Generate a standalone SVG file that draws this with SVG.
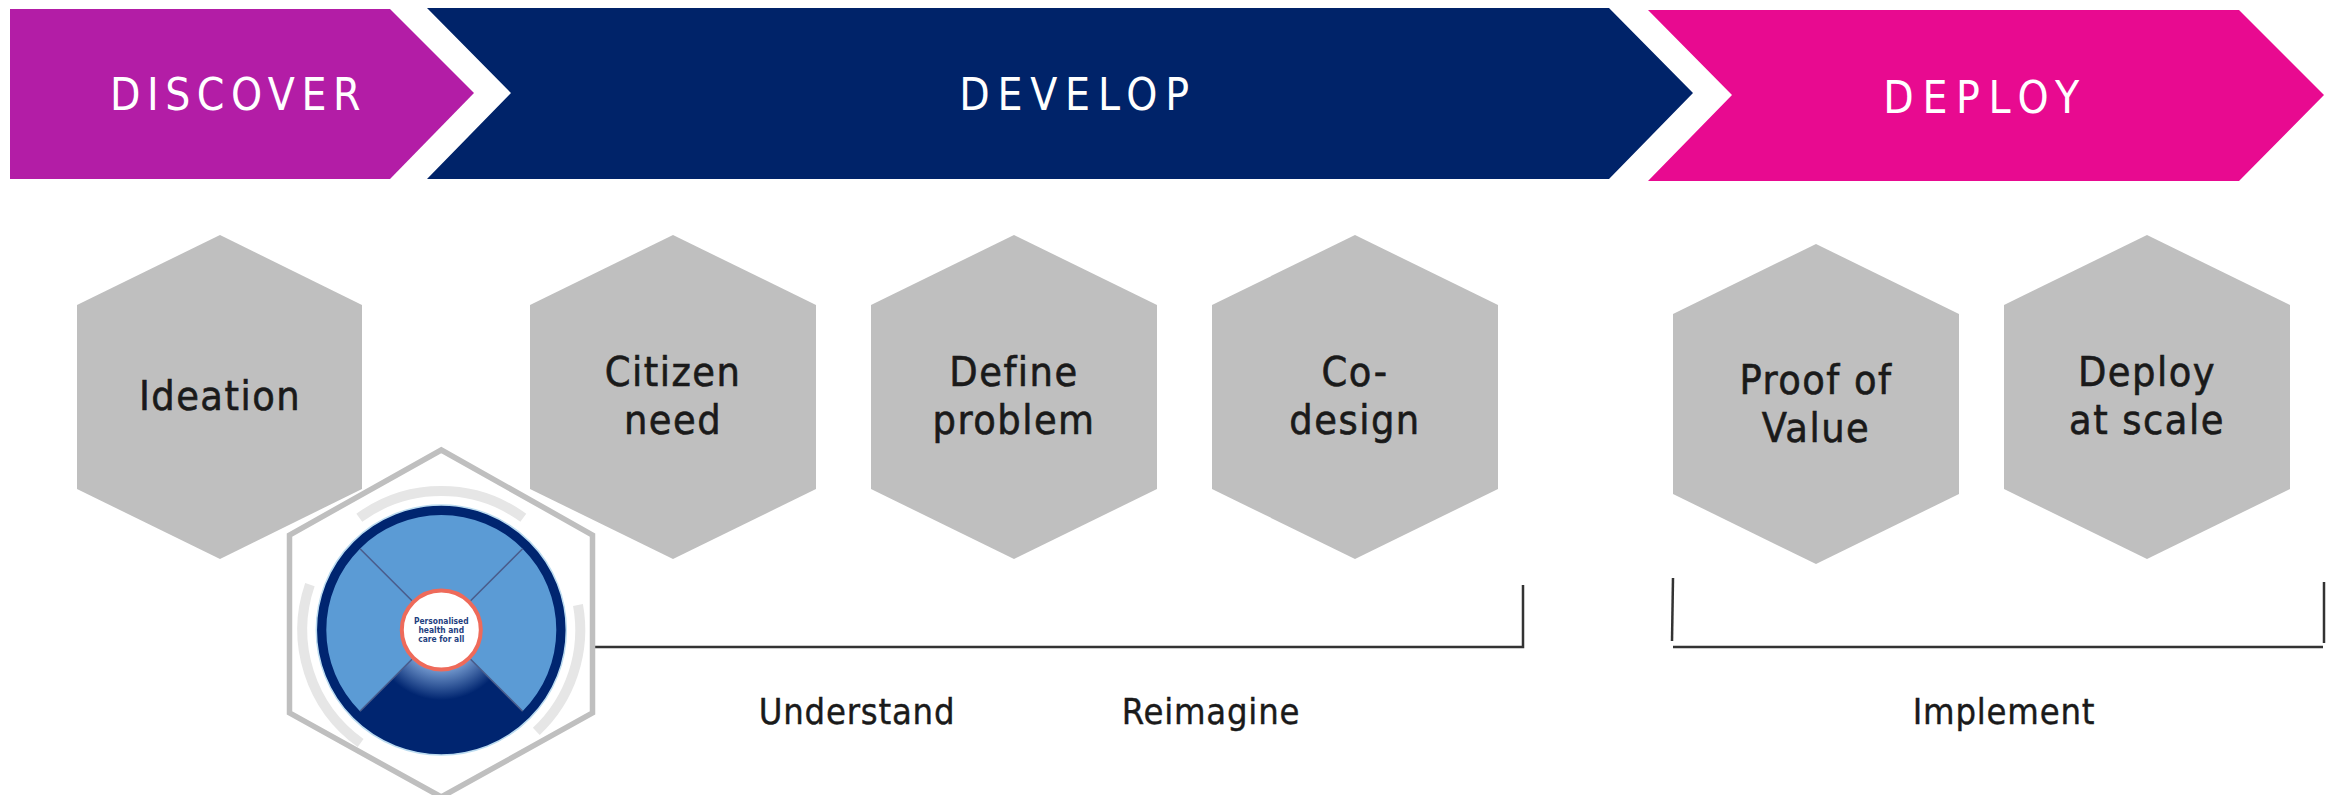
<svg xmlns="http://www.w3.org/2000/svg" width="2336" height="795" viewBox="0 0 2336 795">
<style>
.hex{fill:#bfbfbf}
.lbl{font-family:"DejaVu Sans Condensed","DejaVu Sans",sans-serif;font-stretch:condensed;font-size:41px;letter-spacing:1.5px;fill:#1a1a1a;text-anchor:middle;stroke:#1a1a1a;stroke-width:.6}
.sub{font-family:"DejaVu Sans Condensed","DejaVu Sans",sans-serif;font-stretch:condensed;font-size:36px;letter-spacing:.8px;fill:#1a1a1a;text-anchor:middle;stroke:#1a1a1a;stroke-width:.4}
.hd{font-family:"DejaVu Sans Condensed","DejaVu Sans",sans-serif;font-stretch:condensed;font-size:44px;fill:#fff;text-anchor:middle}
.con{fill:none;stroke:#333;stroke-width:2.5}
.arc{fill:none;stroke:#e6e6e6;stroke-width:10}
.spoke{stroke:#4a5d8c;stroke-width:1.6}
.ctr{font-family:"DejaVu Sans Condensed","DejaVu Sans",sans-serif;font-stretch:condensed;font-size:8.4px;font-weight:700;fill:#1f3f7f;text-anchor:middle}
</style>
<defs>
<radialGradient id="glow" gradientUnits="userSpaceOnUse" cx="441.3" cy="630" r="70">
<stop offset="0.58" stop-color="#6f95cb"/>
<stop offset="1" stop-color="#002570"/>
</radialGradient>
</defs>
<g id="discover"><polygon points="10,9 390,9 474,93 390,179 10,179" fill="#b31da6"/><text class="hd" x="238.5" y="110" letter-spacing="6.5">DISCOVER</text></g>
<g id="develop"><polygon points="427,8 1609,8 1693,93 1609,179 427,179 511,93" fill="#002369"/><text class="hd" x="1078" y="110" letter-spacing="7.8">DEVELOP</text></g>
<g id="deploy"><polygon points="1648,10 2239,10 2324,95 2239,181 1648,181 1732,95" fill="#e80a90"/><text class="hd" x="1985.5" y="113" letter-spacing="8.6">DEPLOY</text></g>
<g id="ideation"><polygon class="hex" points="220,235 362,305 362,489 220,559 77,489 77,305"/><text class="lbl" x="220" y="410">Ideation</text></g>
<g id="citizen-need"><polygon class="hex" points="673,235 816,305 816,489 673,559 530,489 530,305"/><text class="lbl" x="673" y="386">Citizen</text><text class="lbl" x="673" y="434">need</text></g>
<g id="define-problem"><polygon class="hex" points="1014,235 1157,305 1157,489 1014,559 871,489 871,305"/><text class="lbl" x="1014" y="386">Define</text><text class="lbl" x="1014" y="434">problem</text></g>
<g id="co-design"><polygon class="hex" points="1355,235 1498,305 1498,489 1355,559 1212,489 1212,305"/><text class="lbl" x="1355" y="386">Co-</text><text class="lbl" x="1355" y="434">design</text></g>
<g id="proof-of-value"><polygon class="hex" points="1816,244 1959,314 1959,494 1816,564 1673,494 1673,314"/><text class="lbl" x="1816" y="394">Proof of</text><text class="lbl" x="1816" y="442">Value</text></g>
<g id="deploy-at-scale"><polygon class="hex" points="2147,235 2290,305 2290,489 2147,559 2004,489 2004,305"/><text class="lbl" x="2147" y="386">Deploy</text><text class="lbl" x="2147" y="434">at scale</text></g>
<g id="connectors">
<path class="con" d="M595 647H1523V585"/>
<path class="con" d="M1673 578L1672 641"/>
<path class="con" d="M1673 647H2323"/>
<path class="con" d="M2324 582V643"/>
</g>
<g id="personalised-health">
<polygon points="441.3,450 592.5,535 592.5,713 441.3,797 289.5,713 289.5,535" fill="#fff" stroke="#bfbfbf" stroke-width="5.5"/>
<path class="arc" d="M359.3 517.8A139 139 0 0 1 523.3 517.8"/>
<path class="arc" d="M309.9 584.6A139 139 0 0 0 360.6 743"/>
<path class="arc" d="M578 605A139 139 0 0 1 536.3 731.3"/>
<circle cx="441.3" cy="630" r="125" fill="#002570" stroke="#bcdcf0" stroke-width="1.5"/>
<path d="M441.3 630L360 711.3A115 115 0 1 1 522.6 711.3Z" fill="#5b9bd5"/>
<path d="M360 711.3A115 115 0 0 0 522.6 711.3L441.3 630Z" fill="url(#glow)"/>
<path class="spoke" d="M360 548.7L412 600.7M522.6 548.7L470.6 600.7M360 711.3L412 659.3M522.6 711.3L470.6 659.3"/>
<circle cx="441.3" cy="630" r="39.5" fill="#fff" stroke="#ee6a5a" stroke-width="4"/>
<text class="ctr" x="441.3" y="624">Personalised</text>
<text class="ctr" x="441.3" y="633">health and</text>
<text class="ctr" x="441.3" y="642">care for all</text>
</g>
<g id="labels">
<text class="sub" x="857" y="724">Understand</text>
<text class="sub" x="1211" y="724">Reimagine</text>
<text class="sub" x="2004" y="724">Implement</text>
</g>
</svg>
